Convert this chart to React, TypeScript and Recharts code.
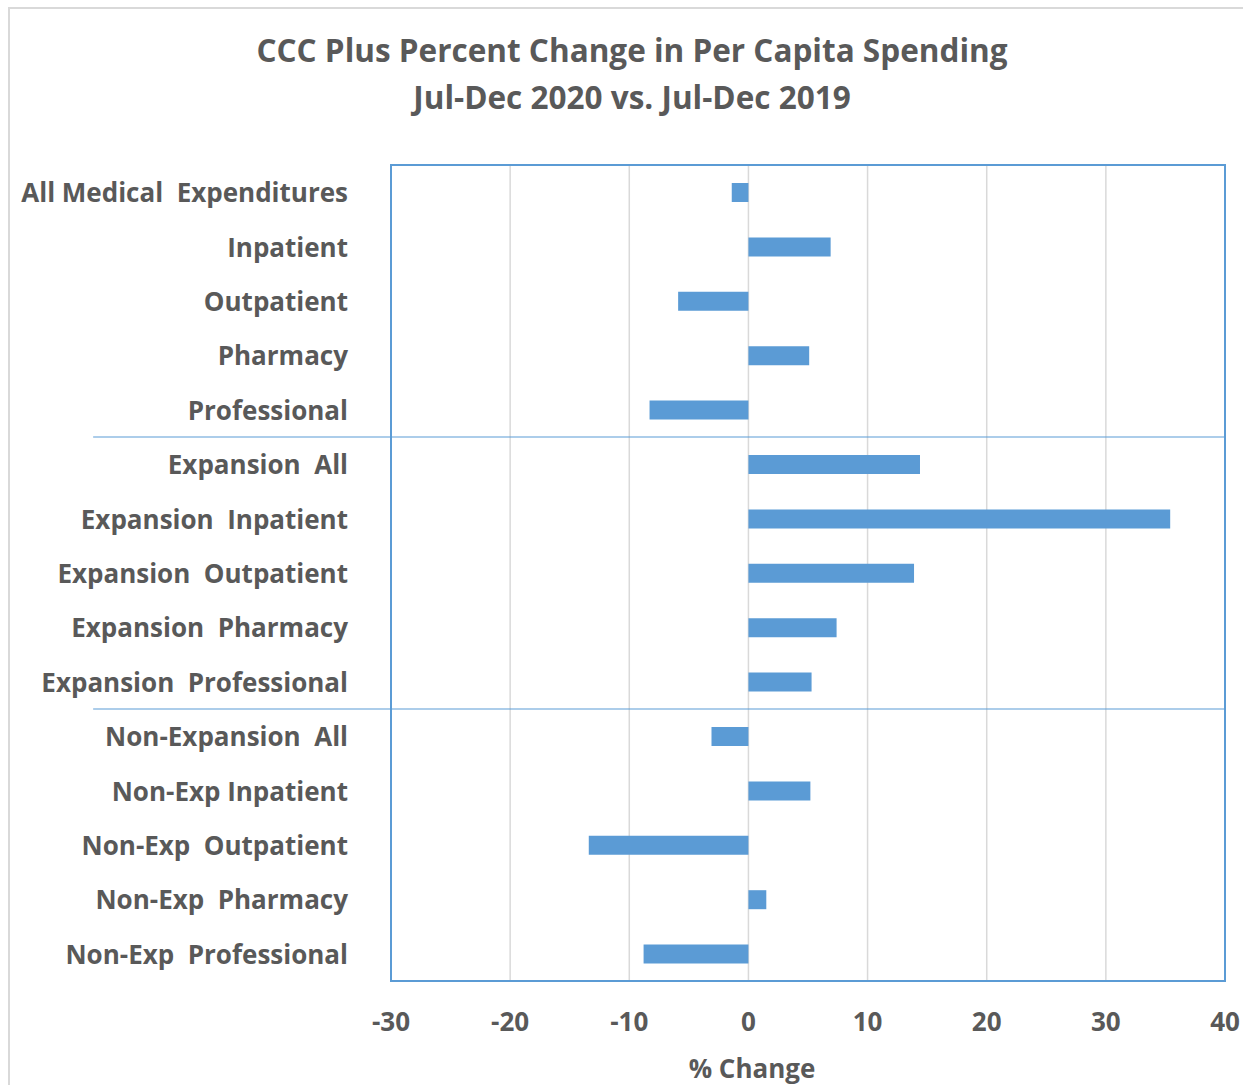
import React from 'react';
import {
  BarChart,
  Bar,
  XAxis,
  YAxis,
  CartesianGrid,
  ReferenceLine,
  ReferenceArea,
} from 'recharts';

// Categories top to bottom (double spaces are in the original labels)
const CATEGORIES = [
  'All Medical  Expenditures',
  'Inpatient',
  'Outpatient',
  'Pharmacy',
  'Professional',
  'Expansion  All',
  'Expansion  Inpatient',
  'Expansion  Outpatient',
  'Expansion  Pharmacy',
  'Expansion  Professional',
  'Non-Expansion  All',
  'Non-Exp Inpatient',
  'Non-Exp  Outpatient',
  'Non-Exp  Pharmacy',
  'Non-Exp  Professional',
];

// % change, Jul-Dec 2020 vs Jul-Dec 2019
const PCT_CHANGE = [-1.4, 6.9, -5.9, 5.1, -8.3, 14.4, 35.4, 13.9, 7.4, 5.3, -3.1, 5.2, -13.4, 1.5, -8.8];

const X_TICKS = [-30, -20, -10, 0, 10, 20, 30, 40];

// group boundaries: line drawn under these categories
const GROUP_ENDS = ['Professional', 'Expansion  Professional'];

const BLUE = '#5B9BD5';
const TEXT = '#595959';
const FONT = '"Open Sans", Lato, sans-serif';

const data = CATEGORIES.map((name, i) => ({ name, value: PCT_CHANGE[i] }));

function CategoryTick({ x, y, payload }: { x?: number; y?: number; payload?: { value: string } }) {
  return (
    <text
      x={x}
      y={y}
      textAnchor="end"
      dominantBaseline="central"
      fill={TEXT}
      fontSize={26}
      fontWeight={700}
      fontFamily={FONT}
      style={{ whiteSpace: 'pre' }}
    >
      {payload?.value}
    </text>
  );
}

export default function App() {
  return (
    <div
      style={{
        position: 'fixed',
        left: 0,
        top: 0,
        width: 1243,
        height: 1085,
        overflow: 'hidden',
        background: '#fff',
        fontFamily: FONT,
      }}
    >
      {/* chart frame */}
      <div
        style={{
          position: 'absolute',
          left: 8,
          top: 7,
          width: 1400,
          height: 1400,
          border: '2px solid #d9d9d9',
        }}
      />
      <div
        style={{
          position: 'absolute',
          left: 0,
          top: 26,
          width: 1264,
          textAlign: 'center',
          color: TEXT,
          fontSize: 31.5,
          fontWeight: 700,
          lineHeight: '47px',
        }}
      >
        CCC Plus Percent Change in Per Capita Spending
        <br />
        Jul-Dec 2020 vs. Jul-Dec 2019
      </div>

      <div style={{ position: 'absolute', left: 0, top: 0 }}>
        <BarChart
          width={1243}
          height={1085}
          data={data}
          layout="vertical"
          margin={{ top: 165, right: 18, bottom: 44, left: 0 }}
        >
          <CartesianGrid horizontal={false} stroke="#d9d9d9" strokeWidth={1.5} />
          <XAxis
            type="number"
            domain={[-30, 40]}
            ticks={X_TICKS}
            height={60}
            axisLine={false}
            tickLine={false}
            tickMargin={26}
            tick={{ fill: TEXT, fontSize: 26, fontWeight: 700, fontFamily: FONT }}
          />
          <YAxis
            type="category"
            dataKey="name"
            width={391}
            axisLine={false}
            tickLine={false}
            tickMargin={37}
            interval={0}
            tick={<CategoryTick />}
          />
          <ReferenceArea x1={-30} x2={40} fill="none" stroke={BLUE} strokeWidth={2} fillOpacity={0} />
          {GROUP_ENDS.map((cat) => (
            <ReferenceLine
              key={cat}
              segment={[
                { x: -55, y: cat },
                { x: 40, y: cat },
              ]}
              position="end"
              ifOverflow="visible"
              stroke={BLUE}
              strokeWidth={1.2}
            />
          ))}
          <Bar dataKey="value" fill={BLUE} barSize={19} isAnimationActive={false} />
        </BarChart>
      </div>

      <div
        style={{
          position: 'absolute',
          left: 752,
          top: 1068,
          transform: 'translate(-50%, -50%)',
          color: TEXT,
          fontSize: 26,
          fontWeight: 700,
          whiteSpace: 'nowrap',
        }}
      >
        % Change
      </div>
    </div>
  );
}
